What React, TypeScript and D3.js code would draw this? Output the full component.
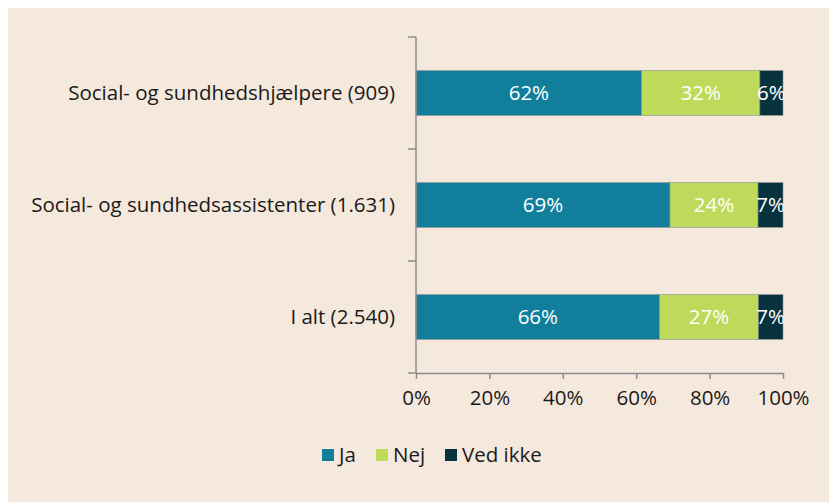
import React, { useEffect, useRef } from "react";
import * as d3 from "d3";

const categories = [
  "Social- og sundhedshjælpere (909)",
  "Social- og sundhedsassistenter (1.631)",
  "I alt (2.540)",
];
const jaValues = [61.5, 69.2, 66.4];
const nejValues = [32.2, 24.0, 26.9];
const vedIkkeValues = [6.3, 6.8, 6.7];
const seriesNames = ["Ja", "Nej", "Ved ikke"];
const seriesColors = ["#117f9c", "#bfd95a", "#07333f"];
const xTicks = [0, 20, 40, 60, 80, 100];

const WIDTH = 829;
const HEIGHT = 494;
const FONT = "'Open Sans', 'Noto Sans', sans-serif";
const FS = "20.5px";

export default function App() {
  const svgRef = useRef<SVGSVGElement | null>(null);

  useEffect(() => {
    const svg = d3.select(svgRef.current);
    svg.selectAll("*").remove();

    // chart origin shifted by body margin (8px)
    const left = 408;
    const right = 775;
    const top = 29;
    const bottom = 365;

    svg.append("rect").attr("width", WIDTH).attr("height", HEIGHT).attr("fill", "#f5e8dc");

    const x = d3.scaleLinear().domain([0, 100]).range([left, right]);
    const y = d3.scaleBand<string>().domain(categories).range([top, bottom]).paddingInner(0.6).paddingOuter(0.3);

    const rows = categories.map((c, i) => ({
      cat: c,
      vals: [jaValues[i], nejValues[i], vedIkkeValues[i]],
    }));

    const g = svg.append("g");
    rows.forEach((r) => {
      let acc = 0;
      r.vals.forEach((v, k) => {
        const x0 = x(acc);
        const x1 = x(acc + v);
        acc += v;
        g.append("rect")
          .attr("x", x0)
          .attr("y", y(r.cat)!)
          .attr("width", x1 - x0)
          .attr("height", y.bandwidth())
          .attr("fill", seriesColors[k])
          .attr("stroke", "#8a8f8f")
          .attr("stroke-width", 0.6);
        g.append("text")
          .attr("x", (x0 + x1) / 2)
          .attr("y", y(r.cat)! + y.bandwidth() / 2)
          .attr("dy", "0.35em")
          .attr("text-anchor", "middle")
          .attr("fill", "#ffffff")
          .style("font-family", FONT)
          .style("font-size", FS)
          .text(Math.round(v) + "%");
      });
    });

    const axisColor = "#8c8c8c";

    // y axis with category boundary ticks
    svg.append("line")
      .attr("x1", left).attr("x2", left).attr("y1", top).attr("y2", bottom)
      .attr("stroke", axisColor).attr("stroke-width", 1.5);
    const step = y.step();
    d3.range(categories.length + 1).forEach((i) => {
      const yy = top + i * step;
      svg.append("line")
        .attr("x1", left - 8).attr("x2", left).attr("y1", yy).attr("y2", yy)
        .attr("stroke", axisColor).attr("stroke-width", 1.5);
    });
    categories.forEach((c) => {
      svg.append("text")
        .attr("x", left - 21)
        .attr("y", y(c)! + y.bandwidth() / 2)
        .attr("dy", "0.35em")
        .attr("text-anchor", "end")
        .attr("fill", "#1a1a1a")
        .style("font-family", FONT)
        .style("font-size", FS)
        .text(c);
    });

    // x axis
    const xAxis = svg.append("g")
      .attr("transform", `translate(0,${bottom})`)
      .call(
        d3.axisBottom(x)
          .tickValues(xTicks)
          .tickSize(6)
          .tickPadding(11)
          .tickSizeOuter(0)
          .tickFormat((d) => d + "%")
      );
    xAxis.select(".domain").attr("stroke", axisColor).attr("stroke-width", 1.5);
    xAxis.selectAll(".tick line").attr("stroke", axisColor).attr("stroke-width", 1.5);
    xAxis.selectAll(".tick text")
      .attr("fill", "#1a1a1a")
      .style("font-family", FONT)
      .style("font-size", FS);

    // legend
    const legendX = [314, 368, 437];
    const legend = svg.append("g");
    seriesNames.forEach((name, i) => {
      legend.append("rect")
        .attr("x", legendX[i]).attr("y", 441)
        .attr("width", 12).attr("height", 12)
        .attr("fill", seriesColors[i]);
      legend.append("text")
        .attr("x", legendX[i] + 17)
        .attr("y", 447)
        .attr("dy", "0.35em")
        .attr("fill", "#1a1a1a")
        .style("font-family", FONT)
        .style("font-size", FS)
        .text(name);
    });
  }, []);

  return <svg ref={svgRef} width={WIDTH} height={HEIGHT} style={{ display: "block" }} />;
}
